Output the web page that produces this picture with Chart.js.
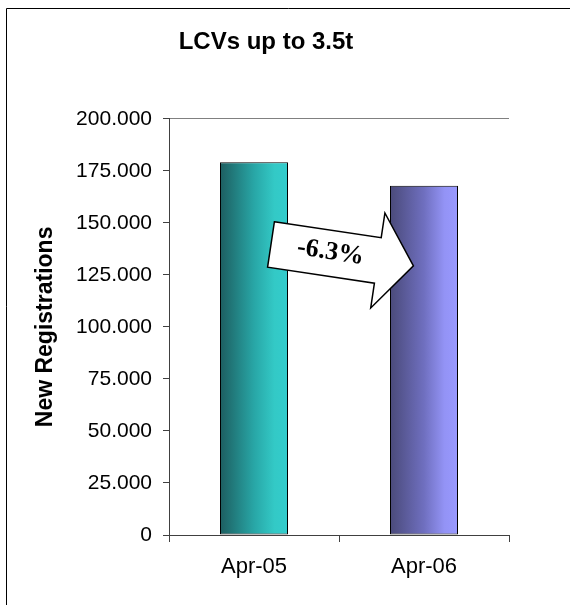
<!DOCTYPE html>
<html><head><meta charset="utf-8">
<script src="https://cdn.jsdelivr.net/npm/chart.js@4/dist/chart.umd.min.js"></script>
<style>html,body{margin:0;padding:0;background:#fff;}canvas{display:block;}</style>
</head><body>
<canvas id="c" width="570" height="605"></canvas>
<script>
// ---- data ----
const categories = ['Apr-05', 'Apr-06'];
const registrations = [179100, 167800];
const yMin = 0;
const yMax = 200000;
const yStep = 25000;
const chartTitle = 'LCVs up to 3.5t';
const yAxisTitle = 'New Registrations';
const changeLabel = (((registrations[1] / registrations[0]) - 1) * 100).toFixed(1) + '%';

// ---- styles ----
const gradientStops = [
  [[0, '#1d5e60'], [0.5, '#28a6a6'], [0.8, '#33c9c6'], [1, '#33cccc']],
  [[0, '#4a4a7a'], [0.5, '#6f6fbf'], [0.8, '#9393f5'], [1, '#9999ff']]
];
const fallbackColors = ['#2aa8a8', '#7777cc'];

function fmtThousands(v) {
  return String(Math.round(v)).replace(/\B(?=(\d{3})+(?!\d))/g, '.');
}

function barFill(ctx) {
  const chart = ctx.chart;
  const i = ctx.dataIndex;
  if (i === undefined) return fallbackColors[0];
  const xs = chart.scales.x;
  if (!xs || !chart.chartArea) return fallbackColors[i];
  const cx = xs.getPixelForValue(i);
  const w = xs.width / categories.length * 0.4;
  const g = chart.ctx.createLinearGradient(cx - w / 2, 0, cx + w / 2, 0);
  gradientStops[i].forEach(s => g.addColorStop(s[0], s[1]));
  return g;
}

const framePlugin = {
  id: 'frame',
  beforeDraw(chart) {
    const c = chart.ctx;
    c.save();
    c.strokeStyle = '#000';
    c.lineWidth = 1;
    c.beginPath();
    c.moveTo(6.5, chart.height);
    c.lineTo(6.5, 8.5);
    c.lineTo(chart.width, 8.5);
    c.stroke();
    c.restore();
  }
};

const arrowPlugin = {
  id: 'changeArrow',
  afterDatasetsDraw(chart) {
    const c = chart.ctx;
    const xs = chart.scales.x, ys = chart.scales.y;
    const p0 = xs.getPixelForValue(0), p1 = xs.getPixelForValue(1);
    const step = p1 - p0;
    const k = step / 170;
    const tx = (p0 + p1) / 2 - 0.40 * step;
    const ty = ys.getPixelForValue(139600);
    c.save();
    c.translate(tx, ty);
    c.rotate(8.5 * Math.PI / 180);
    c.beginPath();
    c.moveTo(0, -23 * k);
    c.lineTo(108 * k, -23 * k);
    c.lineTo(108 * k, -48 * k);
    c.lineTo(144 * k, 0);
    c.lineTo(108 * k, 48 * k);
    c.lineTo(108 * k, 23 * k);
    c.lineTo(0, 23 * k);
    c.closePath();
    c.fillStyle = '#fff';
    c.fill();
    c.lineWidth = 1.5;
    c.strokeStyle = '#000';
    c.lineJoin = 'miter';
    c.stroke();
    c.fillStyle = '#000';
    c.font = 'bold 26px "Liberation Serif", "Times New Roman", serif';
    c.textAlign = 'center';
    c.textBaseline = 'middle';
    c.fillText(changeLabel, 60 * k, -1 * k);
    c.restore();
  }
};

new Chart(document.getElementById('c'), {
  type: 'bar',
  data: {
    labels: categories,
    datasets: [{
      data: registrations,
      backgroundColor: barFill,
      borderColor: '#000',
      borderWidth: 1,
      borderSkipped: false,
      categoryPercentage: 0.8,
      barPercentage: 0.5
    }]
  },
  options: {
    responsive: false,
    animation: false,
    devicePixelRatio: 1,
    layout: { padding: { left: 0, right: 38, top: 0, bottom: 0 } },
    plugins: {
      legend: { display: false },
      tooltip: { enabled: false },
      title: {
        display: true,
        text: chartTitle,
        color: '#000',
        font: { family: '"Liberation Sans", Arial, sans-serif', size: 24, weight: 'bold' },
        padding: { top: 28, bottom: 62 }
      }
    },
    scales: {
      x: {
        grid: {
          offset: true,
          drawOnChartArea: true,
          color: (ctx) => ctx.index === categories.length ? '#9a9a9a' : 'rgba(0,0,0,0)',
          tickColor: '#404040',
          tickLength: 7,
          lineWidth: 1
        },
        border: { display: true, color: '#404040', width: 1 },
        ticks: {
          color: '#000',
          padding: 12,
          font: { family: '"Liberation Sans", Arial, sans-serif', size: 22 }
        },
        afterFit(s) { s.height = 70; }
      },
      y: {
        position: 'left',
        min: yMin,
        max: yMax,
        grid: {
          drawOnChartArea: true,
          color: (ctx) => (ctx.tick && ctx.tick.value === yMax) ? '#808080' : 'rgba(0,0,0,0)',
          tickColor: '#404040',
          tickLength: 6,
          lineWidth: 1
        },
        border: { display: true, color: '#404040', width: 1 },
        ticks: {
          stepSize: yStep,
          color: '#000',
          padding: 11,
          font: { family: '"Liberation Sans", Arial, sans-serif', size: 21 },
          callback: (v) => fmtThousands(v)
        },
        title: {
          display: true,
          text: yAxisTitle,
          color: '#000',
          font: { family: '"Liberation Sans", Arial, sans-serif', size: 23, weight: 'bold' },
          padding: { top: 32, bottom: 0 }
        },
        afterFit(s) { s.width = 169; }
      },
      y2: {
        position: 'right',
        display: true,
        grid: { display: false },
        border: { display: false },
        ticks: { display: false },
        afterFit(s) { s.width = 23; }
      }
    }
  },
  plugins: [framePlugin, arrowPlugin]
});
</script>
</body></html>
